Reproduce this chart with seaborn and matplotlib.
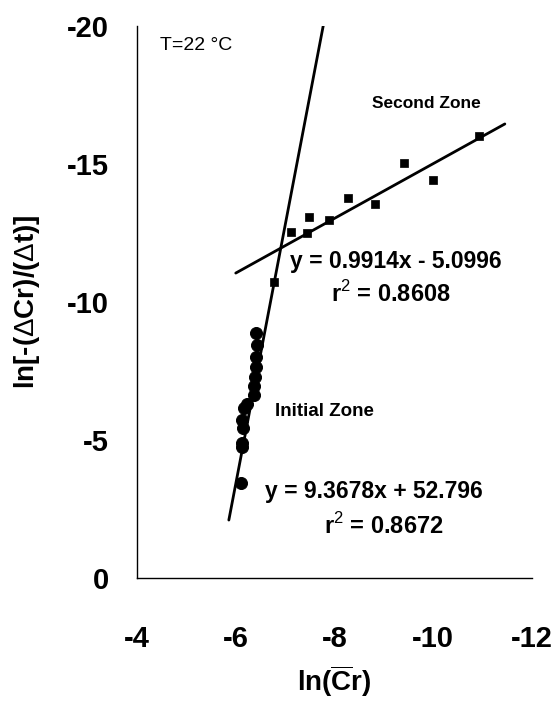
import numpy as np
import pandas as pd
import matplotlib
matplotlib.use("Agg")
import matplotlib.pyplot as plt
import seaborn as sns

# ---- data ----
init_x = [-6.10, -6.13, -6.13, -6.15, -6.13, -6.17, -6.22, -6.36, -6.37, -6.38, -6.40, -6.42, -6.44, -6.40]
init_y = [-3.44, -4.76, -4.90, -5.43, -5.72, -6.15, -6.32, -6.63, -6.94, -7.30, -7.65, -8.02, -8.44, -8.87]

second_x = [-6.77, -7.11, -7.45, -7.48, -7.89, -8.28, -8.83, -9.40, -9.99, -10.92]
second_y = [-10.74, -12.55, -12.50, -13.07, -12.97, -13.78, -13.56, -15.02, -14.43, -16.01]

fit1_slope, fit1_icpt, fit1_r2 = 9.3678, 52.796, 0.8672
fit2_slope, fit2_icpt, fit2_r2 = 0.9914, -5.0996, 0.8608
fit1_xrange = [-5.86, -7.78]
fit2_xrange = [-6.0, -11.45]

x_ticks = [-4, -6, -8, -10, -12]
y_ticks = [0, -5, -10, -15, -20]

# ---- style ----
sns.set_theme(style="white")
plt.rcParams['font.family'] = ['Liberation Sans', 'DejaVu Sans']
plt.rcParams['mathtext.fontset'] = 'custom'
plt.rcParams['mathtext.rm'] = 'Liberation Sans'
plt.rcParams['mathtext.bf'] = 'Liberation Sans:bold'

fig = plt.figure(figsize=(5.58, 7.05), dpi=100)
# axes box: x 137..532 px, y 26..578 px
ax = fig.add_axes([137/558, (705-578)/705, (532-137)/558, (578-26)/705])

df_init = pd.DataFrame({"x": init_x, "y": init_y})
df_sec = pd.DataFrame({"x": second_x, "y": second_y})

sns.scatterplot(data=df_init, x="x", y="y", ax=ax, marker="o", s=75,
                color="black", edgecolor="black", zorder=3)
sns.scatterplot(data=df_sec, x="x", y="y", ax=ax, marker="s", s=40,
                color="black", edgecolor="black", zorder=3)

l1x = np.array(fit1_xrange)
l2x = np.array(fit2_xrange)
sns.lineplot(x=l1x, y=fit1_slope * l1x + fit1_icpt, ax=ax, color="black", lw=2, sort=False)
sns.lineplot(x=l2x, y=fit2_slope * l2x + fit2_icpt, ax=ax, color="black", lw=2, sort=False)

ax.set_xlim(-4, -12)
ax.set_ylim(0, -20)
ax.set_xticks(x_ticks)
ax.set_yticks(y_ticks)
ax.set_xticklabels([f"{t}" for t in x_ticks], fontweight="bold", fontsize=21)
ax.set_yticklabels([f"{t}" for t in y_ticks], fontweight="bold", fontsize=21)
ax.tick_params(axis="both", direction="in", length=8, width=1, color="black",
               labelcolor="black")
ax.tick_params(axis="x", pad=34)
ax.tick_params(axis="y", pad=20)

for s in ["top", "right"]:
    ax.spines[s].set_visible(False)
for s in ["left", "bottom"]:
    ax.spines[s].set_color("black")
    ax.spines[s].set_linewidth(1)

ax.set_xlabel(r"$\mathbf{ln(\overline{C}r)}$", fontsize=20, labelpad=7, color="black")
ax.set_ylabel(r"ln[-($\Delta$Cr)/($\Delta$t)]", fontsize=20, fontweight="bold",
              labelpad=18, color="black")

tk = dict(fontweight="bold", color="black")
ax.text(-4.47, -19.28, "T=22 °C", fontsize=14, color="black", ha="left", va="center")
ax.text(-8.76, -17.2, "Second Zone", fontsize=12.5, ha="left", va="center", **tk)
ax.text(-7.10, -11.45, "y = 0.9914x - 5.0996", fontsize=16.5, ha="left", va="center", **tk)
ax.text(-7.93, -10.29, r"r$^2$ = 0.8608", fontsize=17, ha="left", va="center", **tk)
ax.text(-6.79, -6.05, "Initial Zone", fontsize=13.5, ha="left", va="center", **tk)
ax.text(-6.59, -3.12, "y = 9.3678x + 52.796", fontsize=16.5, ha="left", va="center", **tk)
ax.text(-7.79, -1.88, r"r$^2$ = 0.8672", fontsize=17, ha="left", va="center", **tk)

fig.savefig("out.png", dpi=100)
